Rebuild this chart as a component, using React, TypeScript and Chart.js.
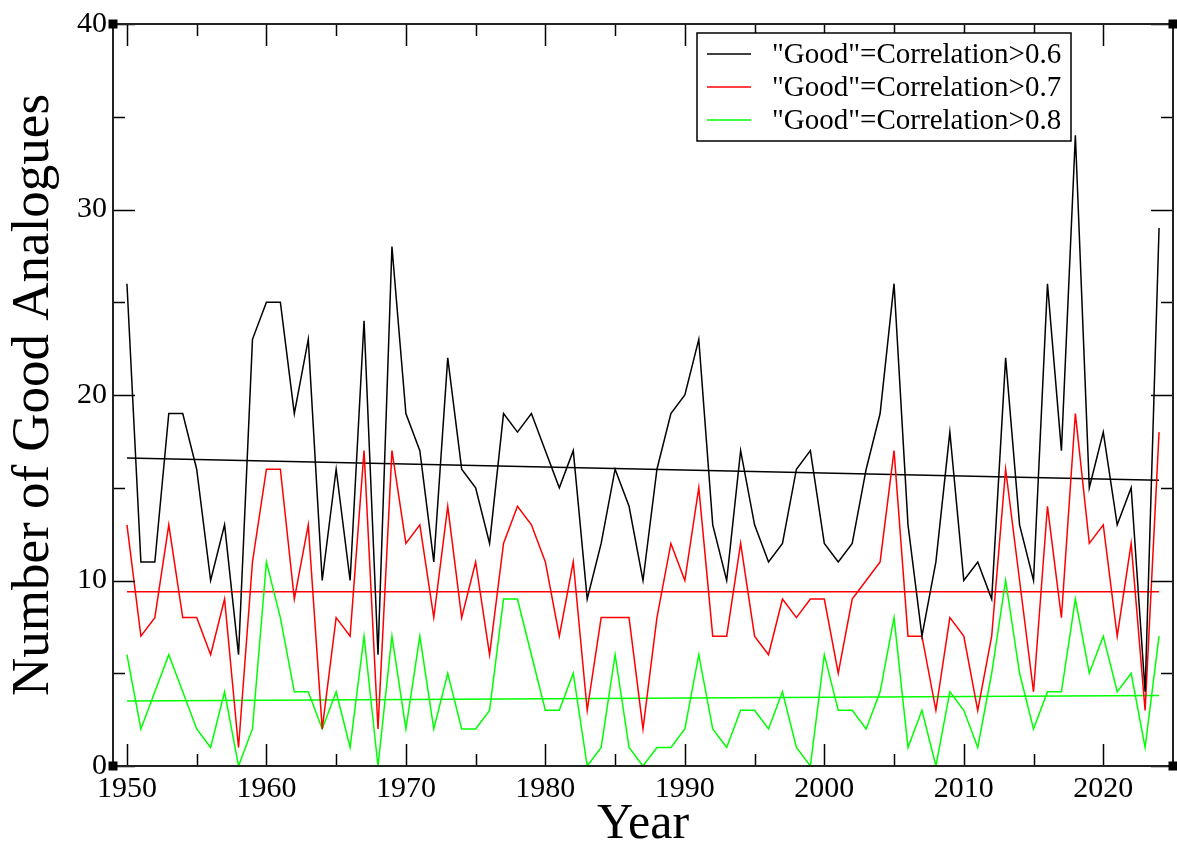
import React, { useEffect, useRef } from "react";
import { Chart, registerables } from "chart.js";

Chart.register(...registerables);

const years = [
  1950, 1951, 1952, 1953, 1954, 1955, 1956, 1957, 1958, 1959,
  1960, 1961, 1962, 1963, 1964, 1965, 1966, 1967, 1968, 1969,
  1970, 1971, 1972, 1973, 1974, 1975, 1976, 1977, 1978, 1979,
  1980, 1981, 1982, 1983, 1984, 1985, 1986, 1987, 1988, 1989,
  1990, 1991, 1992, 1993, 1994, 1995, 1996, 1997, 1998, 1999,
  2000, 2001, 2002, 2003, 2004, 2005, 2006, 2007, 2008, 2009,
  2010, 2011, 2012, 2013, 2014, 2015, 2016, 2017, 2018, 2019,
  2020, 2021, 2022, 2023, 2024,
];

const good06 = [
  26, 11, 11, 19, 19, 16, 10, 13, 6, 23,
  25, 25, 19, 23, 10, 16, 10, 24, 6, 28,
  19, 17, 11, 22, 16, 15, 12, 19, 18, 19,
  17, 15, 17, 9, 12, 16, 14, 10, 16, 19,
  20, 23, 13, 10, 17, 13, 11, 12, 16, 17,
  12, 11, 12, 16, 19, 26, 13, 7, 11, 18,
  10, 11, 9, 22, 13, 10, 26, 17, 34, 15,
  18, 13, 15, 4, 29,
];

const good07 = [
  13, 7, 8, 13, 8, 8, 6, 9, 1, 11,
  16, 16, 9, 13, 2, 8, 7, 17, 2, 17,
  12, 13, 8, 14, 8, 11, 6, 12, 14, 13,
  11, 7, 11, 3, 8, 8, 8, 2, 8, 12,
  10, 15, 7, 7, 12, 7, 6, 9, 8, 9,
  9, 5, 9, 10, 11, 17, 7, 7, 3, 8,
  7, 3, 7, 16, 10, 4, 14, 8, 19, 12,
  13, 7, 12, 3, 18,
];

const good08 = [
  6, 2, 4, 6, 4, 2, 1, 4, 0, 2,
  11, 8, 4, 4, 2, 4, 1, 7, 0, 7,
  2, 7, 2, 5, 2, 2, 3, 9, 9, 6,
  3, 3, 5, 0, 1, 6, 1, 0, 1, 1,
  2, 6, 2, 1, 3, 3, 2, 4, 1, 0,
  6, 3, 3, 2, 4, 8, 1, 3, 0, 4,
  3, 1, 5, 10, 5, 2, 4, 4, 9, 5,
  7, 4, 5, 1, 7,
];

// Trend lines (endpoints)
const trendYears = [1950, 2024];
const trend06 = [16.6, 15.4];
const trend07 = [9.4, 9.4];
const trend08 = [3.5, 3.8];

const seriesLabels = [
  '"Good"=Correlation>0.6',
  '"Good"=Correlation>0.7',
  '"Good"=Correlation>0.8',
];
const seriesColors = ["#000000", "#ff0000", "#00ff00"];

const xMajorTicks = [1950, 1960, 1970, 1980, 1990, 2000, 2010, 2020];
const xMinorTicks = [1955, 1965, 1975, 1985, 1995, 2005, 2015];
const yMajorTicks = [0, 10, 20, 30, 40];
const yMinorTicks = [5, 15, 25, 35];

const toPoints = (xs: number[], ys: number[]) =>
  xs.map((x, i) => ({ x, y: ys[i] }));

const SERIF = "'Liberation Serif', 'Times New Roman', serif";

const framePlugin = {
  id: "xmFrame",
  afterDatasetsDraw(chart: any) {
    const { ctx, chartArea, scales } = chart;
    const { left, right, top, bottom } = chartArea;
    const xs = scales.x;
    const ys = scales.y;
    ctx.save();
    ctx.strokeStyle = "#000";
    ctx.lineWidth = 1.5;
    const MAJ = 22;
    const MIN = 12;
    ctx.beginPath();
    xMajorTicks.forEach((v) => {
      const p = Math.round(xs.getPixelForValue(v)) + 0.5;
      ctx.moveTo(p, bottom);
      ctx.lineTo(p, bottom - MAJ);
      ctx.moveTo(p, top);
      ctx.lineTo(p, top + MAJ);
    });
    xMinorTicks.forEach((v) => {
      const p = Math.round(xs.getPixelForValue(v)) + 0.5;
      ctx.moveTo(p, bottom);
      ctx.lineTo(p, bottom - MIN);
      ctx.moveTo(p, top);
      ctx.lineTo(p, top + MIN);
    });
    yMajorTicks.forEach((v) => {
      const p = Math.round(ys.getPixelForValue(v)) + 0.5;
      ctx.moveTo(left, p);
      ctx.lineTo(left + MAJ, p);
      ctx.moveTo(right, p);
      ctx.lineTo(right - MAJ, p);
    });
    yMinorTicks.forEach((v) => {
      const p = Math.round(ys.getPixelForValue(v)) + 0.5;
      ctx.moveTo(left, p);
      ctx.lineTo(left + MIN, p);
      ctx.moveTo(right, p);
      ctx.lineTo(right - MIN, p);
    });
    ctx.stroke();

    // frame
    ctx.strokeStyle = "#222";
    ctx.lineWidth = 2;
    ctx.strokeRect(left, top, right - left, bottom - top);

    // corner handles
    ctx.fillStyle = "#000";
    const S = 9;
    [
      [left, top],
      [right, top],
      [left, bottom],
      [right, bottom],
    ].forEach(([cx, cy]) => {
      ctx.fillRect(cx - S / 2, cy - S / 2, S, S);
    });

    // legend box
    const bx = 697;
    const by = 33;
    const bw = 374;
    const bh = 108;
    ctx.fillStyle = "#fff";
    ctx.fillRect(bx, by, bw, bh);
    ctx.strokeStyle = "#000";
    ctx.lineWidth = 1.5;
    ctx.strokeRect(bx, by, bw, bh);
    ctx.font = `29px ${SERIF}`;
    ctx.textBaseline = "middle";
    ctx.textAlign = "left";
    const rows = [54, 87, 120];
    seriesLabels.forEach((lab, i) => {
      ctx.strokeStyle = seriesColors[i];
      ctx.lineWidth = 1.5;
      ctx.beginPath();
      ctx.moveTo(707, rows[i]);
      ctx.lineTo(751, rows[i]);
      ctx.stroke();
      ctx.fillStyle = "#000";
      ctx.fillText(lab, 772, rows[i] + 1);
    });
    ctx.restore();
  },
};

export default function App() {
  const canvasRef = useRef<HTMLCanvasElement | null>(null);

  useEffect(() => {
    const canvas = canvasRef.current;
    if (!canvas) return;
    const lineDs = (label: string, data: number[], color: string) => ({
      label,
      data: toPoints(years, data),
      borderColor: color,
      backgroundColor: color,
      borderWidth: 1.5,
      pointRadius: 0,
      tension: 0,
      fill: false,
    });
    const trendDs = (data: number[], color: string) => ({
      label: "trend",
      data: toPoints(trendYears, data),
      borderColor: color,
      backgroundColor: color,
      borderWidth: 1.5,
      pointRadius: 0,
      tension: 0,
      fill: false,
    });

    const chart = new Chart(canvas, {
      type: "line",
      data: {
        datasets: [
          lineDs(seriesLabels[0], good06, seriesColors[0]),
          lineDs(seriesLabels[1], good07, seriesColors[1]),
          lineDs(seriesLabels[2], good08, seriesColors[2]),
          trendDs(trend06, seriesColors[0]),
          trendDs(trend07, seriesColors[1]),
          trendDs(trend08, seriesColors[2]),
        ],
      },
      options: {
        animation: false,
        responsive: false,
        maintainAspectRatio: false,
        devicePixelRatio: 1,
        layout: { padding: { top: 22, right: 4, left: 0, bottom: 0 } },
        plugins: {
          legend: { display: false },
          tooltip: { enabled: false },
        },
        scales: {
          x: {
            type: "linear",
            min: 1949,
            max: 2025,
            grid: { display: false, drawTicks: false },
            border: { display: false },
            afterBuildTicks: (scale: any) => {
              scale.ticks = xMajorTicks.map((v) => ({ value: v }));
            },
            afterFit: (scale: any) => {
              scale.height = 79;
            },
            ticks: {
              color: "#000",
              padding: 5,
              maxRotation: 0,
              autoSkip: false,
              font: { family: SERIF, size: 30 },
              callback: (v: any) => String(v),
            },
            title: {
              display: true,
              text: "Year",
              color: "#000",
              font: { family: SERIF, size: 50, lineHeight: 0.8 },
              padding: 0,
            },
          },
          y: {
            type: "linear",
            min: 0,
            max: 40,
            grid: { display: false, drawTicks: false },
            border: { display: false },
            afterBuildTicks: (scale: any) => {
              scale.ticks = yMajorTicks.map((v) => ({ value: v }));
            },
            afterFit: (scale: any) => {
              scale.width = 113;
            },
            ticks: {
              color: "#000",
              padding: 6,
              autoSkip: false,
              font: { family: SERIF, size: 30 },
              callback: (v: any) => String(v),
            },
            title: {
              display: true,
              text: "Number of Good Analogues",
              color: "#000",
              font: { family: SERIF, size: 53, lineHeight: 1.2 },
              padding: { top: 2, bottom: 0 },
            },
          },
        },
      },
      plugins: [framePlugin],
    } as any);
    return () => chart.destroy();
  }, []);

  return (
    <div
      style={{
        position: "fixed",
        left: 0,
        top: 0,
        width: 1177,
        height: 845,
        background: "#fff",
      }}
    >
      <canvas ref={canvasRef} width={1177} height={845} />
    </div>
  );
}
